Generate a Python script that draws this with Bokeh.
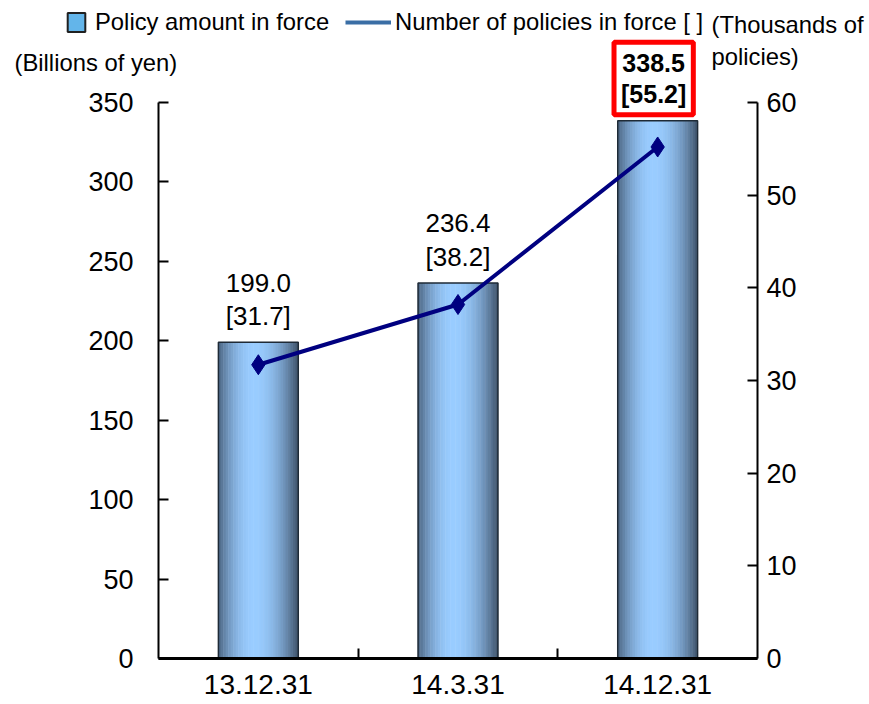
from bokeh.plotting import figure
from bokeh.models import (ColumnDataSource, Range1d, LinearAxis, FixedTicker,
                          Label, LabelSet, Legend, LegendItem)
from bokeh.transform import dodge
from bokeh.core.properties import value
from bokeh.embed import file_html
from bokeh.resources import INLINE

# ---------------- data ----------------
categories = ["13.12.31", "14.3.31", "14.12.31"]
policy_amount = [199.0, 236.4, 338.5]   # billions of yen (bars, left axis)
policy_count = [31.7, 38.2, 55.2]       # thousands of policies (line, right axis)
left_ticks = [0, 50, 100, 150, 200, 250, 300, 350]
right_ticks = [0, 10, 20, 30, 40, 50, 60]
legend_bar = "Policy amount in force"
legend_line = "Number of policies in force [ ]"
left_unit = "(Billions of yen)"
right_unit = ["(Thousands of", "policies)"]

FONT = "Liberation Sans"

# category slots: one unit per category, centred on its index
x_pos = list(range(len(categories)))
x_lo, x_hi = -0.5, len(categories) - 0.5
left_max, right_max = left_ticks[-1], right_ticks[-1]

labels = [f"{a:.1f}\n[{c:.1f}]" for a, c in zip(policy_amount, policy_count)]
src = ColumnDataSource(dict(x=x_pos, cat=categories, amount=policy_amount,
                            count=policy_count, label=labels))
src_norm = ColumnDataSource(dict(x=x_pos[:-1], amount=policy_amount[:-1],
                                 label=labels[:-1]))

# ---------------- canvas / frame geometry (pixels) ----------------
W, H = 869, 702
PL, PR, PT, PB = 158, 757, 102, 658     # plot-area edges inside the canvas
ux = (x_hi - x_lo) / (PR - PL)
uy = left_max / (PB - PT)
ur = right_max / (PB - PT)

p = figure(width=W, height=H,
           x_range=Range1d(x_lo - PL * ux, x_lo + (W - PL) * ux),
           y_range=Range1d(-(H - PB) * uy, PB * uy),
           x_axis_type=None, y_axis_type=None,
           min_border=0, min_border_left=0, min_border_right=0,
           min_border_top=0, min_border_bottom=0,
           output_backend="svg", toolbar_location=None, tools="")
p.extra_y_ranges = {"count": Range1d(-(H - PB) * ur, PB * ur)}
p.title.visible = False
p.outline_line_color = None
p.background_fill_color = "white"
p.border_fill_color = "white"

# ---------------- gradient bars ----------------
def mix(c1, c2, f):
    return "#%02x%02x%02x" % tuple(int(round(a + (b - a) * f)) for a, b in zip(c1, c2))

LIGHT = (153, 204, 255)
DARK_L = (74, 99, 128)
DARK_R = (62, 82, 106)
PEAK = 0.45

def grad(t):
    if t <= PEAK:
        f = 1 - ((PEAK - t) / PEAK) ** 2
        return mix(DARK_L, LIGHT, f)
    f = 1 - ((t - PEAK) / (1 - PEAK)) ** 2
    return mix(DARK_R, LIGHT, f)

BAR_W = 0.4
N = 32
for i in range(N):
    t = (i + 0.5) / N
    off = -BAR_W / 2 + t * BAR_W
    p.vbar(x=dodge("x", off), top="amount", bottom=0, width=BAR_W / N * 1.2,
           source=src, fill_color=grad(t), line_color=None)
p.vbar(x="x", top="amount", bottom=0, width=BAR_W, source=src, fill_color=None,
       line_color="#1e2a36", line_width=1.5)

# ---------------- line ----------------
p.line(x="x", y="count", source=src, y_range_name="count",
       line_color="#000080", line_width=4)
p.scatter(x="x", y="count", source=src, y_range_name="count", marker="diamond",
          size=20, fill_color="#000080", line_color="#000080")

# ---------------- axes (drawn at fixed locations) ----------------
def style_axis(ax, size):
    ax.axis_line_color = "black"
    ax.axis_line_width = 2
    ax.major_tick_line_color = "black"
    ax.major_tick_line_width = 2
    ax.major_tick_in = 10
    ax.major_tick_out = 0
    ax.minor_tick_line_color = None
    ax.major_label_text_font = FONT
    ax.major_label_text_font_size = size
    ax.major_label_text_color = "black"

la = LinearAxis(fixed_location=x_lo, ticker=FixedTicker(ticks=left_ticks),
                bounds=(0, left_max))
style_axis(la, "27px")
la.major_label_standoff = 25
p.add_layout(la, "left")

ra = LinearAxis(y_range_name="count", fixed_location=x_hi,
                ticker=FixedTicker(ticks=right_ticks), bounds=(0, right_max))
style_axis(ra, "27px")
ra.major_label_standoff = 9
p.add_layout(ra, "right")

ba = LinearAxis(fixed_location=0,
                ticker=FixedTicker(ticks=x_pos, minor_ticks=[x + 0.5 for x in x_pos[:-1]]),
                major_label_overrides={x: c for x, c in zip(x_pos, categories)},
                bounds=(x_lo, x_hi))
style_axis(ba, "28px")
ba.axis_line_width = 3
ba.major_tick_line_color = None
ba.minor_tick_line_color = "black"
ba.minor_tick_line_width = 2
ba.minor_tick_in = 10
ba.minor_tick_out = 0
ba.major_label_standoff = 16
p.add_layout(ba, "below")

# ---------------- value labels ----------------
ls = LabelSet(x="x", y="amount", text="label", source=src_norm, y_offset=11,
              text_align="center", text_baseline="bottom", text_font=value(FONT),
              text_font_size="26px", text_color="black", text_line_height=1.12)
p.add_layout(ls)

hl = Label(x=x_pos[-1], y=policy_amount[-1], text=labels[-1], x_offset=-4, y_offset=6,
           text_align="center", text_baseline="bottom", text_font=FONT,
           text_font_size="25px", text_font_style="bold", text_color="black",
           text_line_height=1.09, border_line_color="#ff0000", border_line_width=5,
           background_fill_color="white", padding=7)
p.add_layout(hl)

# ---------------- unit labels ----------------
def unit_label(text, sx, sy_top):
    p.add_layout(Label(x=sx, y=H - sy_top, x_units="screen", y_units="screen",
                       text=text, text_align="left", text_baseline="middle",
                       text_font=FONT, text_font_size="23.8px", text_color="black"))

unit_label(left_unit, 14, 62)
unit_label(right_unit[0], 711, 24)
unit_label(right_unit[1], 711, 56)

# ---------------- legend ----------------
# legend-only renderers: same data, kept muted with an invisible muted look,
# so only their legend swatches are drawn
legend_bar_r = p.vbar(x="x", top="amount", bottom=0, width=BAR_W, source=src,
                      fill_color="#63b5ea", line_color="#202020", line_width=2,
                      muted_fill_alpha=0, muted_line_alpha=0)
legend_bar_r.muted = True
legend_line_r = p.line(x="x", y="count", source=src, y_range_name="count",
                       line_color="#3a6ea5", line_width=4, muted_line_alpha=0)
legend_line_r.muted = True

def make_legend(label, rend, sx, gw, gh, standoff):
    lg = Legend(items=[LegendItem(label=label, renderers=[rend])],
                location=(sx, H - 36), orientation="horizontal",
                glyph_width=gw, glyph_height=gh, label_standoff=standoff,
                padding=0, margin=0, background_fill_alpha=0, border_line_color=None,
                label_text_font=FONT, label_text_font_size="23.8px",
                label_text_color="black", click_policy="none")
    p.add_layout(lg)

make_legend(legend_bar, legend_bar_r, 65, 22, 24, 8)
make_legend(legend_line, legend_line_r, 345, 46, 24, 4)

open("out.html", "w").write(file_html(p, INLINE))
